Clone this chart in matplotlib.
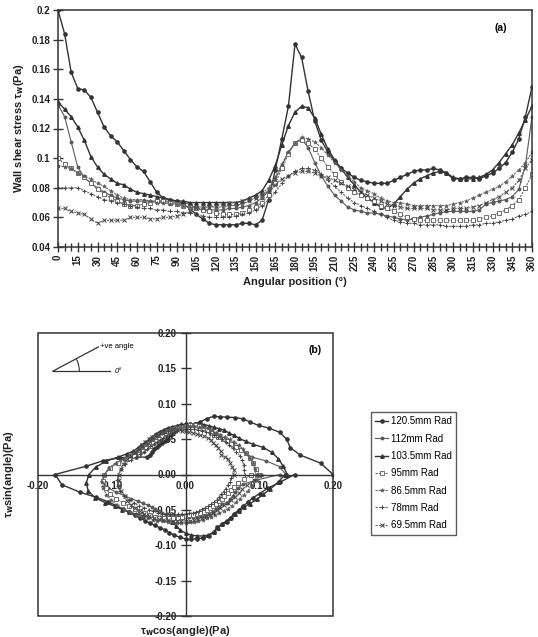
import numpy as np
import matplotlib
matplotlib.use("Agg")
import matplotlib.pyplot as plt
from matplotlib.patches import Rectangle, Arc

plt.rcParams['font.family'] = ['Liberation Sans', 'DejaVu Sans']

angles = list(range(0, 361, 5))

r120_5 = [0.200, 0.184, 0.158, 0.147, 0.146, 0.141, 0.131, 0.121, 0.115, 0.111,
          0.105, 0.099, 0.094, 0.091, 0.084, 0.077, 0.073, 0.072, 0.071, 0.069,
          0.066, 0.062, 0.059, 0.056, 0.055, 0.055, 0.055, 0.055, 0.056, 0.056,
          0.055, 0.058, 0.072, 0.092, 0.113, 0.135, 0.177, 0.168, 0.145, 0.125,
          0.112, 0.104, 0.098, 0.093, 0.090, 0.087, 0.085, 0.084, 0.083, 0.083,
          0.083, 0.085, 0.087, 0.089, 0.091, 0.092, 0.092, 0.093, 0.092, 0.090,
          0.086, 0.086, 0.087, 0.087, 0.086, 0.088, 0.090, 0.093, 0.097, 0.104,
          0.113, 0.128, 0.148]
r112 = [0.136, 0.128, 0.111, 0.094, 0.087, 0.083, 0.080, 0.077, 0.075, 0.073,
        0.072, 0.071, 0.071, 0.071, 0.071, 0.071, 0.071, 0.071, 0.070, 0.070,
        0.069, 0.066, 0.065, 0.065, 0.065, 0.065, 0.066, 0.066, 0.067, 0.068,
        0.070, 0.073, 0.078, 0.086, 0.095, 0.104, 0.110, 0.113, 0.107, 0.097,
        0.088, 0.081, 0.075, 0.071, 0.067, 0.065, 0.064, 0.063, 0.063, 0.062,
        0.061, 0.060, 0.059, 0.058, 0.059, 0.060, 0.061, 0.062, 0.063, 0.064,
        0.064, 0.064, 0.064, 0.064, 0.065, 0.069, 0.070, 0.071, 0.072, 0.074,
        0.079, 0.095, 0.128]
r103_5 = [0.138, 0.133, 0.128, 0.121, 0.112, 0.101, 0.094, 0.089, 0.086, 0.083,
          0.082, 0.079, 0.077, 0.076, 0.075, 0.074, 0.073, 0.072, 0.071, 0.071,
          0.070, 0.070, 0.070, 0.070, 0.070, 0.070, 0.070, 0.070, 0.071, 0.073,
          0.075, 0.078, 0.085, 0.095, 0.109, 0.122, 0.131, 0.135, 0.134, 0.127,
          0.116, 0.106, 0.099, 0.093, 0.087, 0.082, 0.077, 0.073, 0.070, 0.067,
          0.066, 0.069, 0.074, 0.079, 0.083, 0.086, 0.088, 0.090, 0.091, 0.090,
          0.087, 0.086, 0.086, 0.086, 0.087, 0.089, 0.092, 0.097, 0.103, 0.109,
          0.117, 0.126, 0.135]
r95 = [0.100, 0.096, 0.093, 0.090, 0.087, 0.083, 0.079, 0.076, 0.073, 0.071,
       0.069, 0.068, 0.068, 0.069, 0.070, 0.071, 0.071, 0.070, 0.069, 0.068,
       0.067, 0.066, 0.065, 0.064, 0.063, 0.062, 0.062, 0.062, 0.063, 0.065,
       0.067, 0.070, 0.075, 0.083, 0.093, 0.103, 0.110, 0.112, 0.110, 0.106,
       0.100, 0.094, 0.089, 0.084, 0.080, 0.077, 0.075, 0.073, 0.071, 0.068,
       0.066, 0.064, 0.062, 0.060, 0.059, 0.058, 0.058, 0.058, 0.058, 0.058,
       0.058, 0.058, 0.058, 0.058, 0.059, 0.060, 0.061, 0.063, 0.065, 0.068,
       0.072, 0.080, 0.089]
r86_5 = [0.095, 0.094, 0.093, 0.090, 0.088, 0.086, 0.083, 0.081, 0.078, 0.075,
         0.073, 0.072, 0.072, 0.072, 0.071, 0.070, 0.070, 0.069, 0.069, 0.068,
         0.067, 0.067, 0.067, 0.067, 0.067, 0.067, 0.068, 0.068, 0.069, 0.071,
         0.073, 0.076, 0.080, 0.087, 0.096, 0.104, 0.110, 0.114, 0.113, 0.111,
         0.107, 0.102, 0.097, 0.092, 0.088, 0.084, 0.080, 0.078, 0.076, 0.073,
         0.071, 0.070, 0.070, 0.069, 0.068, 0.068, 0.068, 0.068, 0.068, 0.068,
         0.069, 0.070, 0.071, 0.073, 0.075, 0.077, 0.079, 0.081, 0.084, 0.088,
         0.092, 0.097, 0.104]
r78 = [0.080, 0.080, 0.080, 0.080, 0.078, 0.076, 0.074, 0.072, 0.071, 0.070,
       0.069, 0.068, 0.067, 0.066, 0.066, 0.065, 0.065, 0.064, 0.064, 0.063,
       0.063, 0.062, 0.061, 0.060, 0.060, 0.060, 0.060, 0.061, 0.062, 0.063,
       0.065, 0.068, 0.072, 0.077, 0.083, 0.088, 0.091, 0.093, 0.093, 0.092,
       0.089, 0.085, 0.081, 0.077, 0.073, 0.070, 0.068, 0.066, 0.064, 0.062,
       0.060, 0.058, 0.057, 0.056, 0.056, 0.055, 0.055, 0.055, 0.055, 0.054,
       0.054, 0.054, 0.054, 0.055, 0.055, 0.056, 0.056, 0.057, 0.058, 0.059,
       0.061, 0.062, 0.064]
r69_5 = [0.066, 0.066, 0.064, 0.063, 0.062, 0.059, 0.056, 0.058, 0.058, 0.058,
         0.058, 0.060, 0.060, 0.060, 0.059, 0.059, 0.060, 0.060, 0.061, 0.062,
         0.064, 0.066, 0.066, 0.067, 0.068, 0.069, 0.070, 0.070, 0.071, 0.072,
         0.073, 0.075, 0.078, 0.082, 0.086, 0.088, 0.090, 0.091, 0.091, 0.090,
         0.088, 0.087, 0.085, 0.083, 0.081, 0.079, 0.077, 0.075, 0.073, 0.071,
         0.069, 0.068, 0.067, 0.066, 0.066, 0.066, 0.066, 0.065, 0.065, 0.065,
         0.066, 0.066, 0.066, 0.067, 0.068, 0.070, 0.072, 0.074, 0.077, 0.080,
         0.085, 0.093, 0.099]

labels = ['120.5mm Rad', '112mm Rad', '103.5mm Rad', '95mm Rad',
          '86.5mm Rad', '78mm Rad', '69.5mm Rad']
series = [r120_5, r112, r103_5, r95, r86_5, r78, r69_5]

styles = [
    dict(color='#333333', ls='-', lw=1.0, marker='o', ms=2.3, mfc='#333333', mec='#333333'),
    dict(color='#5a5a5a', ls='-', lw=0.8, marker='o', ms=1.8, mfc='#5a5a5a', mec='#5a5a5a'),
    dict(color='#333333', ls='-', lw=1.0, marker='^', ms=2.5, mfc='#333333', mec='#333333'),
    dict(color='#6a6a6a', ls=(0, (2, 1)), lw=0.8, marker='s', ms=2.2, mfc='white', mec='#5a5a5a', mew=0.6),
    dict(color='#6a6a6a', ls=(0, (2, 1)), lw=0.8, marker='*', ms=3.0, mfc='#5a5a5a', mec='#5a5a5a', mew=0.4),
    dict(color='#6a6a6a', ls=(0, (2, 1)), lw=0.8, marker='+', ms=3.0, mec='#444444', mew=0.7),
    dict(color='#6a6a6a', ls=(0, (2, 1)), lw=0.8, marker='x', ms=2.4, mec='#444444', mew=0.7),
]

fig = plt.figure(figsize=(5.38, 6.37), dpi=100)
tk = dict(fontsize=7, fontweight='bold', color='#222222')

# ---------------- panel (a) ----------------
axa = fig.add_axes([58/538, 1-247/637, (532-58)/538, (247-10)/637])
for vals, st in zip(series, styles):
    axa.plot(angles, vals, **st)
axa.set_xlim(0, 360)
axa.set_ylim(0.04, 0.2)
axa.set_xticks(range(0, 361, 15))
axa.set_xticks(range(0, 361, 5), minor=True)
axa.set_yticks([0.04, 0.06, 0.08, 0.1, 0.12, 0.14, 0.16, 0.18, 0.2])
axa.set_yticklabels(['0.04', '0.06', '0.08', '0.1', '0.12', '0.14', '0.16', '0.18', '0.2'], **tk)
axa.set_xticklabels([str(a) for a in range(0, 361, 15)], rotation=90, **tk)
axa.tick_params(axis='both', which='major', direction='inout', length=7, width=1, color='#333333', pad=2)
axa.tick_params(axis='x', which='minor', direction='inout', length=6, width=1, color='#333333')
for s in axa.spines.values():
    s.set_color('#333333')
    s.set_linewidth(1.1)
axa.set_xlabel('Angular position (°)', fontsize=8, fontweight='bold', color='#222222', labelpad=4)
axa.set_ylabel('Wall shear stress τ$_\\mathbf{w}$(Pa)', fontsize=8, fontweight='bold', color='#222222', labelpad=4)
axa.text(0.935, 0.925, '(a)', transform=axa.transAxes, fontsize=7.5, fontweight='bold', ha='center', va='center')

# ---------------- panel (b) ----------------
axb = fig.add_axes([38/538, 1-616/637, (333-38)/538, (616-333)/637])
rad = np.deg2rad(angles)
handles = []
for vals, st, lab in zip(series, styles, labels):
    v = np.asarray(vals)
    h, = axb.plot(v*np.cos(rad), v*np.sin(rad), label=lab, **st)
    handles.append(h)
axb.set_xlim(-0.2, 0.2)
axb.set_ylim(-0.2, 0.2)
axb.spines['left'].set_position('zero')
axb.spines['bottom'].set_position('zero')
axb.spines['top'].set_visible(False)
axb.spines['right'].set_visible(False)
for s in ['left', 'bottom']:
    axb.spines[s].set_color('#333333')
    axb.spines[s].set_linewidth(1.0)
axb.add_patch(Rectangle((0, 0), 1, 1, transform=axb.transAxes, fill=False,
                        ec='#333333', lw=1.1, clip_on=False, zorder=5))
xt = [-0.2, -0.1, 0.0, 0.1, 0.2]
axb.set_xticks(xt)
axb.set_xticklabels(['-0.20', '-0.10', '0.00', '0.10', '0.20'], **tk)
yt = [-0.2, -0.15, -0.1, -0.05, 0.0, 0.05, 0.1, 0.15, 0.2]
axb.set_yticks(yt)
axb.set_yticklabels(['%.2f' % y for y in yt], **tk)
axb.tick_params(axis='y', direction='inout', length=7, width=1, color='#333333', pad=3)
axb.tick_params(axis='x', direction='inout', length=0, width=1, color='#333333', pad=5)
axb.set_xlabel('τ$_\\mathbf{w}$cos(angle)(Pa)', fontsize=8, fontweight='bold', color='#222222', labelpad=1)
axb.xaxis.set_label_coords(0.5, -0.028)
axb.set_ylabel('τ$_\\mathbf{w}$sin(angle)(Pa)', fontsize=8, fontweight='bold', color='#222222')
axb.yaxis.set_label_coords(-0.075, 0.5)
axb.text(0.94, 0.94, '(b)', transform=axb.transAxes, fontsize=7.5, fontweight='bold', ha='center', va='center')

# angle sketch
ox, oy = 0.05, 0.865
axb.plot([ox, ox+0.195], [oy, oy], transform=axb.transAxes, color='#333333', lw=0.9, clip_on=False)
ang = np.deg2rad(28)
L = 0.175
axb.plot([ox, ox+L*np.cos(ang)], [oy, oy+L*np.sin(ang)*295/283], transform=axb.transAxes,
         color='#333333', lw=0.9, clip_on=False)
axb.add_patch(Arc((ox, oy), 0.18, 0.18*295/283, theta1=0, theta2=28, transform=axb.transAxes,
                  color='#333333', lw=0.8))
axb.text(ox+0.21, oy, '0°', transform=axb.transAxes, fontsize=5.5, va='center', ha='left', style='italic')
axb.text(ox+L*np.cos(ang)+0.005, oy+L*np.sin(ang)+0.005, '+ve angle', transform=axb.transAxes,
         fontsize=5.5, va='center', ha='left')

fig.legend(handles=handles, labels=labels, loc='upper left',
           bbox_to_anchor=(371/538, 1-412/637), frameon=True, fancybox=False,
           edgecolor='#333333', fontsize=7, handlelength=1.3, handletextpad=0.3,
           labelspacing=0.75, borderpad=0.45, borderaxespad=0)

fig.savefig('out.png', dpi=100)
